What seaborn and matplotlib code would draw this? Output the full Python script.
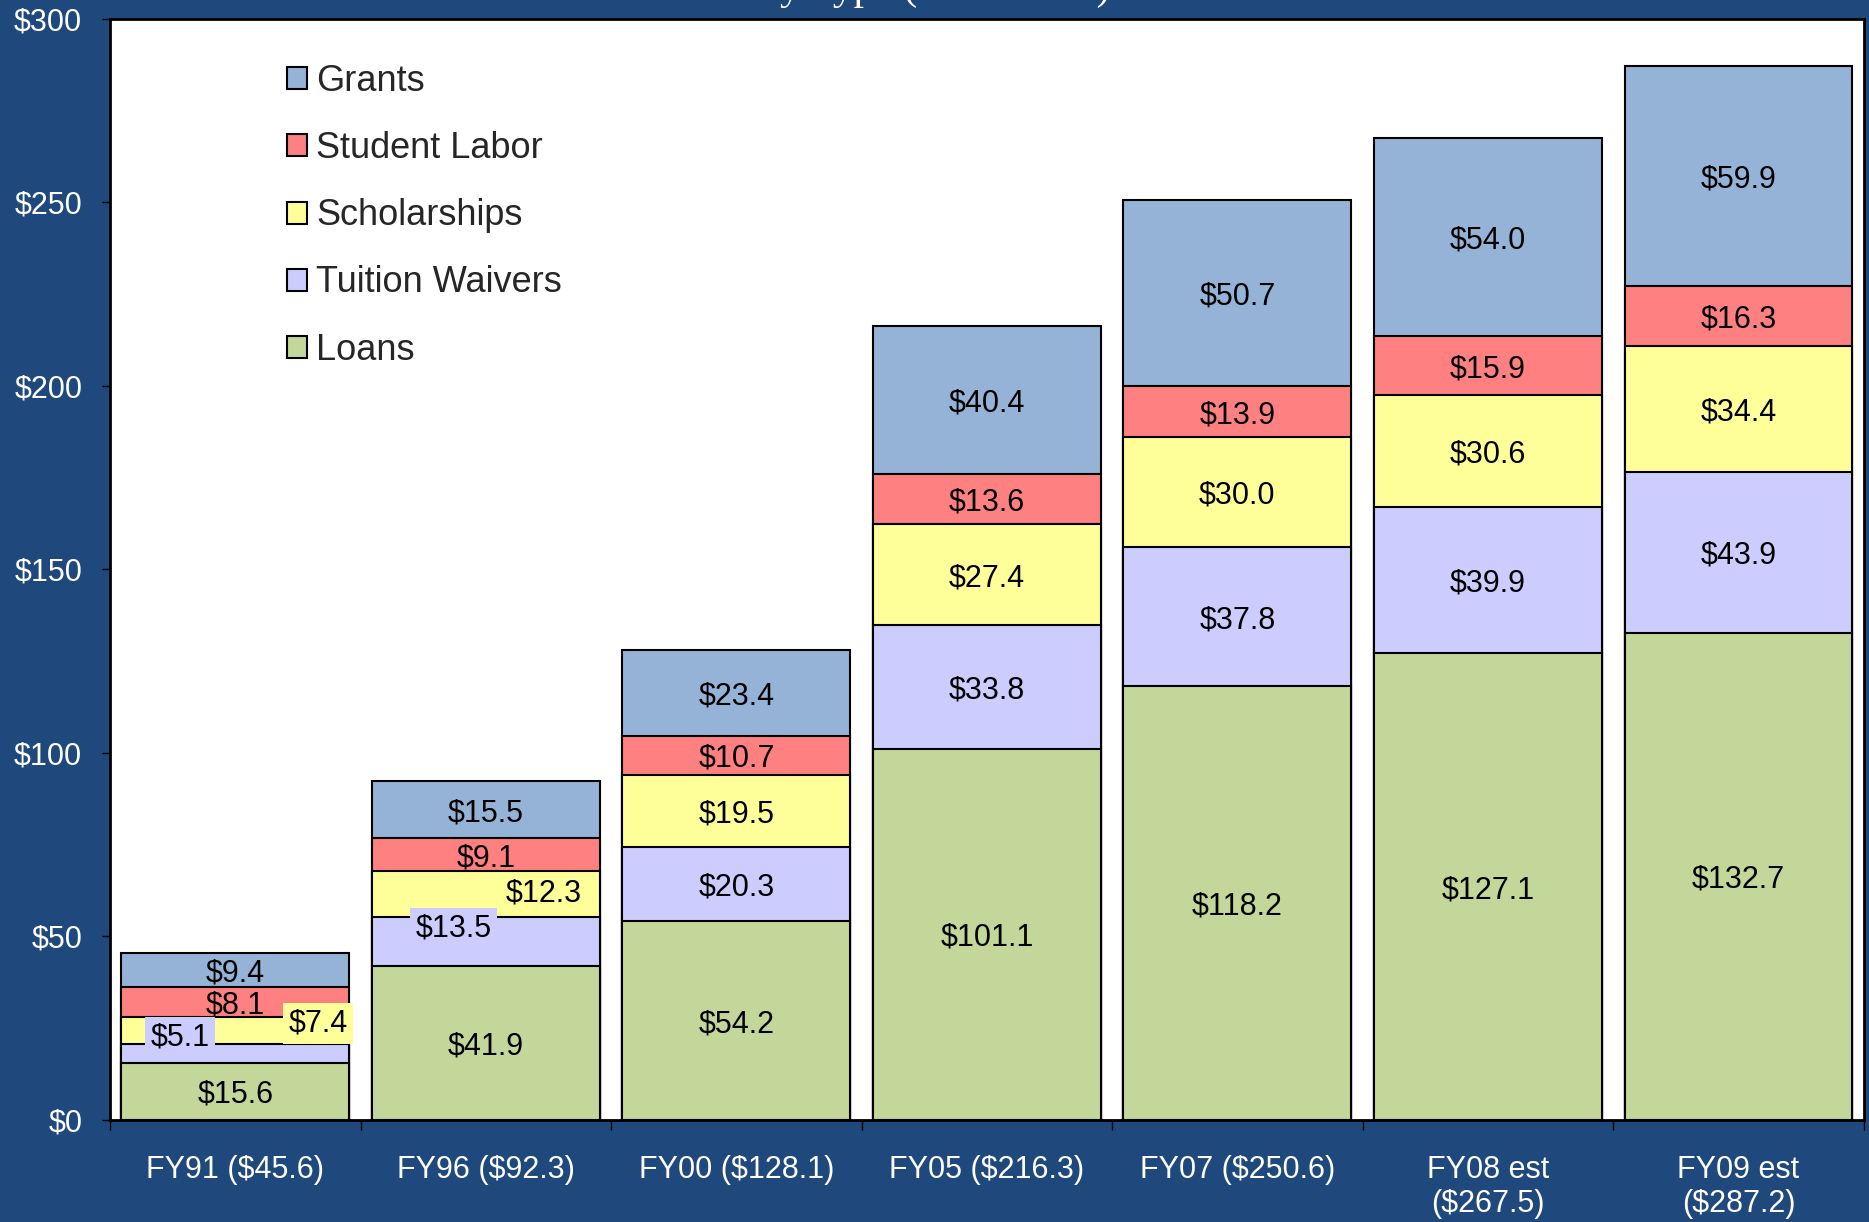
import numpy as np
import pandas as pd
import matplotlib.pyplot as plt
from matplotlib.patches import Patch
import seaborn as sns

# Data (millions of dollars)
years = ['FY91 ($45.6)', 'FY96 ($92.3)', 'FY00 ($128.1)', 'FY05 ($216.3)',
         'FY07 ($250.6)', 'FY08 est\n($267.5)', 'FY09 est\n($287.2)']
loans = [15.6, 41.9, 54.2, 101.1, 118.2, 127.1, 132.7]
waivers = [5.1, 13.5, 20.3, 33.8, 37.8, 39.9, 43.9]
scholarships = [7.4, 12.3, 19.5, 27.4, 30.0, 30.6, 34.4]
labor = [8.1, 9.1, 10.7, 13.6, 13.9, 15.9, 16.3]
grants = [9.4, 15.5, 23.4, 40.4, 50.7, 54.0, 59.9]

# stacking order, bottom to top
types = ['Loans', 'Tuition Waivers', 'Scholarships', 'Student Labor', 'Grants']
colors = {'Loans': '#C4D79B', 'Tuition Waivers': '#CCCCFF', 'Scholarships': '#FFFF99',
          'Student Labor': '#FF8080', 'Grants': '#95B3D7'}

df = pd.DataFrame({'Loans': loans, 'Tuition Waivers': waivers,
                   'Scholarships': scholarships, 'Student Labor': labor,
                   'Grants': grants}, index=years)
top = df.cumsum(axis=1)
base = top - df

bg = '#1F497D'
sns.set_style('white')
plt.rcParams['font.family'] = ['Liberation Sans', 'DejaVu Sans']

fig = plt.figure(figsize=(18.69, 12.22), dpi=100, facecolor=bg)
ax = fig.add_axes([0.0589, 0.0835, 0.9383, 0.901])
ax.set_facecolor('white')

# draw cumulative totals from the top layer down so each layer overdraws the next
for t in reversed(types):
    sns.barplot(x=years, y=top[t].values, color=colors[t], saturation=1,
                width=0.91, edgecolor='black', linewidth=1.5, ax=ax)

# segment labels; a few small FY91/FY96 labels are nudged aside in the original
nudges = {(0, 'Tuition Waivers'): (-0.22, 5.2), (0, 'Scholarships'): (0.33, 2.9),
          (1, 'Tuition Waivers'): (-0.13, 4.6), (1, 'Scholarships'): (0.23, 1.1)}
for i, yr in enumerate(years):
    for t in types:
        v = df.loc[yr, t]
        dx, dy = nudges.get((i, t), (0, 0))
        kw = {}
        if (i, t) in nudges:
            kw['bbox'] = dict(boxstyle='square,pad=0.18', facecolor=colors[t], edgecolor='none')
        ax.text(i + dx, base.loc[yr, t] + v / 2 + dy, f'${v:.1f}', ha='center',
                va='center_baseline', fontsize=22, color='black', **kw)

ax.set_ylim(0, 300)
ax.set_xlim(-0.5, 6.5)
ax.set_yticks(range(0, 301, 50))
ax.set_yticklabels([f'${v}' for v in range(0, 301, 50)])
ax.set_xticks(range(len(years)))
ax.set_xticklabels(years)
ax.set_xticks(np.arange(-0.5, len(years), 1.0), minor=True)
ax.set_xlabel('')
ax.set_ylabel('')
ax.tick_params(axis='y', which='major', left=True, length=6, width=1, color='black',
               pad=14, labelsize=22, labelcolor='white')
ax.tick_params(axis='x', which='major', bottom=True, length=0, pad=25,
               labelsize=22, labelcolor='white')
ax.tick_params(axis='x', which='minor', bottom=True, length=7, width=1, color='black')
for s in ax.spines.values():
    s.set_visible(True)
    s.set_color('black')
    s.set_linewidth(2)

handles = [Patch(facecolor=colors[t], edgecolor='black', linewidth=1.5, label=t)
           for t in reversed(types)]
ax.legend(handles=handles, loc='upper left', bbox_to_anchor=(0.101, 0.959),
          frameon=False, fontsize=26, handlelength=0.56, handleheight=0.56,
          handletextpad=0.25, labelspacing=0.89, borderpad=0, borderaxespad=0)

# title sits almost entirely above the visible area in the original
fig.text(0.594, 1.001, 'Financial Aid by Type (in millions)', ha='right', va='baseline',
         fontsize=30, family='Liberation Serif', color='white')

fig.savefig('out.png', dpi=100, facecolor=fig.get_facecolor())
